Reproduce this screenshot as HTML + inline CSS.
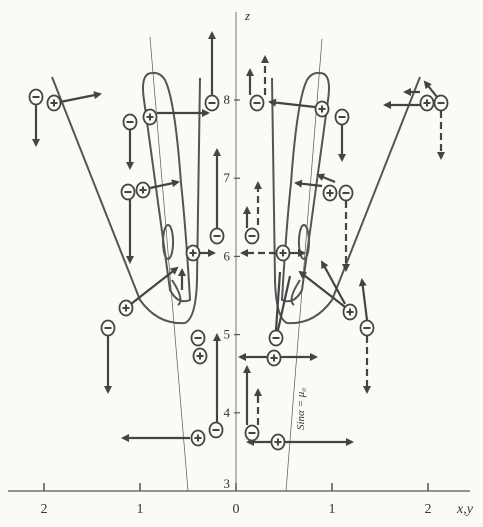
<!DOCTYPE html>
<html><head><meta charset="utf-8"><style>
html,body{margin:0;padding:0;background:#fafaf7;}
svg{display:block;font-family:"Liberation Serif",serif;}
</style></head><body>
<svg id="c" width="483" height="527" viewBox="0 0 483 527">
<defs><marker id="ah" markerWidth="8" markerHeight="8" refX="6" refY="4" orient="auto" markerUnits="userSpaceOnUse"><path d="M0,0 L8,4 L0,8 z" fill="#444"/></marker></defs>
<g id="axes" stroke="#555" fill="none">
<line x1="8" y1="491" x2="470" y2="491" stroke-width="1.2"/>
<line x1="236" y1="12" x2="236" y2="491" stroke-width="0.8"/>
<line x1="150" y1="37" x2="188" y2="491" stroke-width="0.7"/>
<line x1="322" y1="39" x2="286" y2="491" stroke-width="0.7"/>
</g>
<g id="shapes" stroke="#555" stroke-width="2" fill="none"></g>
<g id="ticks"></g>
<g id="arrows" stroke="#444" stroke-width="2.2" fill="none"></g>
<g id="charges"></g>
<text x="245" y="20" font-size="13" font-style="italic" fill="#333">z</text>
<text x="457" y="513" font-size="14" font-style="italic" fill="#333">x,y</text>
<text transform="translate(304,430) rotate(-90)" font-size="11" font-style="italic" fill="#333">Sinα = μ₀</text>
</svg>
<script>
var xTicks=[-2,-1,0,1,2];
var xTickLabels=["2","1","0","1","2"];
var zTicks=[3,4,5,6,7,8];
var chargeX=[36,54,130,150,212,128,143,217,193,126,108,198,200,198,216,257,322,342,427,441,330,346,252,283,350,367,276,274,252,278];
var chargeY=[97,103,122,117,103,192,190,236,253,308,328,338,356,438,430,103,109,117,103,103,193,193,236,253,312,328,338,358,433,442];
var chargeSign=["-","+","-","+","-","-","+","-","+","+","-","-","+","+","-","-","+","-","+","-","+","-","-","+","+","-","-","+","-","+"];
var arrows=[[60,102,100,94,0],[36,105,36,145,0],[157,113,208,113,0],[130,130,130,168,0],[212,95,212,33,0],[150,188,178,182,0],[130,200,130,262,0],[217,228,217,150,0],[199,253,214,253,0],[131,304,177,268,0],[182,290,182,270,0],[108,336,108,392,0],[217,425,217,335,0],[190,438,123,438,0],
[250,95,250,70,0],[265,95,265,57,1],[315,107,270,102,0],[342,125,342,160,0],[420,105,385,105,0],[437,97,425,82,0],[420,92,405,92,0],[441,111,441,158,1],[322,186,296,183,0],[335,182,318,175,0],[346,201,346,270,1],[247,228,247,208,0],[258,225,258,183,1],[276,253,242,253,1],[290,253,304,253,0],[345,307,300,272,0],[345,304,322,262,0],[367,320,362,280,0],[367,336,367,392,1],[276,330,280,272,2],[278,330,290,276,2],[267,357,316,357,0],[267,357,240,357,0],[247,425,247,367,0],[258,425,258,390,1],[271,442,352,442,0],[271,442,248,442,0]];
function sx(v){return 236+v*96;}
function sz(v){return 491-(v-3)*78.2;}
var NS="http://www.w3.org/2000/svg";
function mk(t,a,p){var e=document.createElementNS(NS,t);for(var k in a)e.setAttribute(k,a[k]);p.appendChild(e);return e;}
var tk=document.getElementById('ticks');
xTicks.forEach(function(v,i){
 var l=mk('line',{x1:sx(v),y1:483,x2:sx(v),y2:491,stroke:'#555','stroke-width':1.5},tk);
 
 
 var t=mk('text',{x:sx(v),y:513,'font-size':14,'text-anchor':'middle',fill:'#333'},tk);t.textContent=xTickLabels[i];
 
 
});
zTicks.forEach(function(v){
 if(v>3){var l=mk('line',{x1:234,y1:sz(v),x2:240,y2:sz(v),stroke:'#555','stroke-width':1.2},tk);
 
 }
 var t=mk('text',{x:230,y:sz(v)+(v==3?-3:4),'font-size':13,'text-anchor':'end',fill:'#333'},tk);t.textContent=v;
 
 
});
var sh=document.getElementById('shapes');
function shape(d,tr,name){var p=mk('path',{d:d},sh);if(tr)p.setAttribute('transform',tr);
 
 }
var vD="M52,77 L140,300 Q158,325 185,323 Q196,318 197,280 L200,78";
var loopD="M152,73 Q140,73 144,100 L170,290 Q178,305 190,300 Q186,230 181,183 Q175,100 165,80 Q160,72 152,73 Z";
var ellD="M168,225 a5,17 0 1,0 0.1,0 Z M172,280 Q185,300 178,305";
[["",'left'],["translate(472,0) scale(-1,1)",'right']].forEach(function(s){
 shape(vD,s[0],'v-boundary-'+s[1]);shape(loopD,s[0],'loop-'+s[1]);shape(ellD,s[0],'inner-ellipse-'+s[1]);
});
var ag=document.getElementById('arrows');
arrows.forEach(function(a){
 var l=mk('line',{x1:a[0],y1:a[1],x2:a[2],y2:a[3]},ag);
 if(a[4]==1)l.setAttribute('stroke-dasharray','7,4');
 if(a[4]!=2)l.setAttribute('marker-end','url(#ah)');
 
 
});
var cg=document.getElementById('charges');
chargeX.forEach(function(x,i){
 var y=chargeY[i];
 var g=mk('g',{},cg);
 
 
 mk('ellipse',{cx:x,cy:y,rx:6.5,ry:7.5,fill:'#fafaf7',stroke:'#444','stroke-width':1.8},g);
 mk('line',{x1:x-3.5,y1:y,x2:x+3.5,y2:y,stroke:'#444','stroke-width':2},g);
 if(chargeSign[i]=='+')mk('line',{x1:x,y1:y-3.5,x2:x,y2:y+3.5,stroke:'#444','stroke-width':2},g);
});
</script>
</body></html>
